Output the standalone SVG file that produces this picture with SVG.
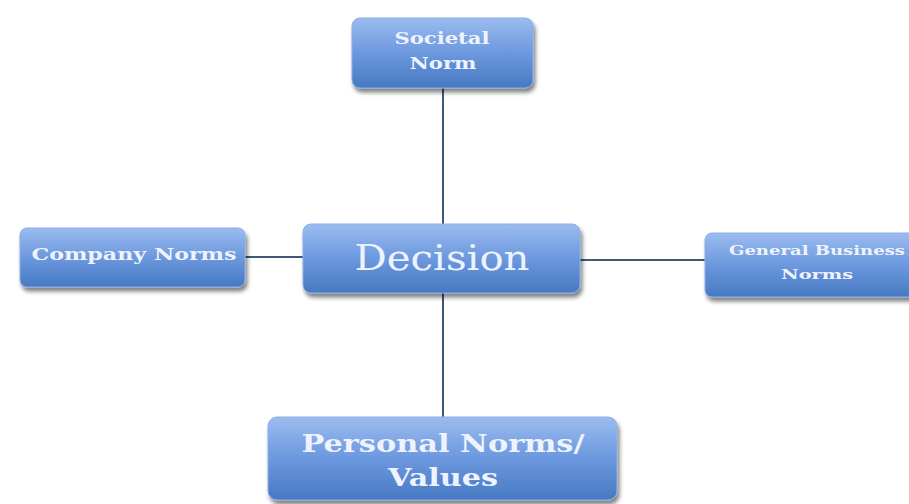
<svg xmlns="http://www.w3.org/2000/svg" width="909" height="504" viewBox="0 0 909 504">
<defs>
<linearGradient id="g" x1="0" y1="0" x2="0" y2="1">
<stop offset="0" stop-color="#9bbcf0"/>
<stop offset="0.5" stop-color="#6c98de"/>
<stop offset="1" stop-color="#4679c2"/>
</linearGradient>
<filter id="sh" x="-10%" y="-10%" width="125%" height="140%">
<feGaussianBlur in="SourceAlpha" stdDeviation="2"/>
<feOffset dx="2" dy="4"/>
<feComponentTransfer><feFuncA type="linear" slope="0.5"/></feComponentTransfer>
<feMerge><feMergeNode/><feMergeNode in="SourceGraphic"/></feMerge>
</filter>
</defs>
<style>
.box{fill:url(#g);stroke:#8aaee6;stroke-width:1;filter:url(#sh)}
.t{font-family:"DejaVu Serif","Liberation Serif",serif;fill:#eef3ff;text-anchor:middle;dominant-baseline:central}
.b{font-weight:bold}
.c{stroke:#3e5878;stroke-width:2;fill:none}
</style>
<rect width="909" height="504" fill="#ffffff"/>
<g id="connectors">
<line class="c" x1="443" y1="88" x2="443" y2="224"/>
<line class="c" x1="443" y1="293" x2="443" y2="417"/>
<line class="c" x1="245" y1="257" x2="303" y2="257"/>
<line class="c" x1="580" y1="260" x2="705" y2="260"/>
</g>
<g id="societal">
<rect class="box" x="352" y="18" width="181" height="70" rx="8"/>
<text class="t b" x="442" y="38" font-size="17" textLength="95" lengthAdjust="spacingAndGlyphs">Societal</text>
<text class="t b" x="443" y="63" font-size="17" textLength="67" lengthAdjust="spacingAndGlyphs">Norm</text>
</g>
<g id="decision">
<rect class="box" x="303" y="224" width="277" height="69" rx="8"/>
<text class="t" x="442" y="257" font-size="36" textLength="175" lengthAdjust="spacingAndGlyphs">Decision</text>
</g>
<g id="company">
<rect class="box" x="20" y="228" width="225" height="59" rx="7"/>
<text class="t b" x="134" y="254" font-size="17" textLength="205" lengthAdjust="spacingAndGlyphs">Company Norms</text>
</g>
<g id="general">
<rect class="box" x="705" y="233" width="214" height="64" rx="7"/>
<text class="t b" x="817" y="251" font-size="12" textLength="176" lengthAdjust="spacingAndGlyphs">General Business</text>
<text class="t b" x="817" y="275" font-size="12" textLength="72" lengthAdjust="spacingAndGlyphs">Norms</text>
</g>
<g id="personal">
<rect class="box" x="268" y="417" width="349" height="83" rx="9"/>
<text class="t b" x="443" y="443" font-size="25" textLength="283" lengthAdjust="spacingAndGlyphs">Personal Norms/</text>
<text class="t b" x="443" y="477" font-size="25" textLength="110" lengthAdjust="spacingAndGlyphs">Values</text>
</g>
</svg>
